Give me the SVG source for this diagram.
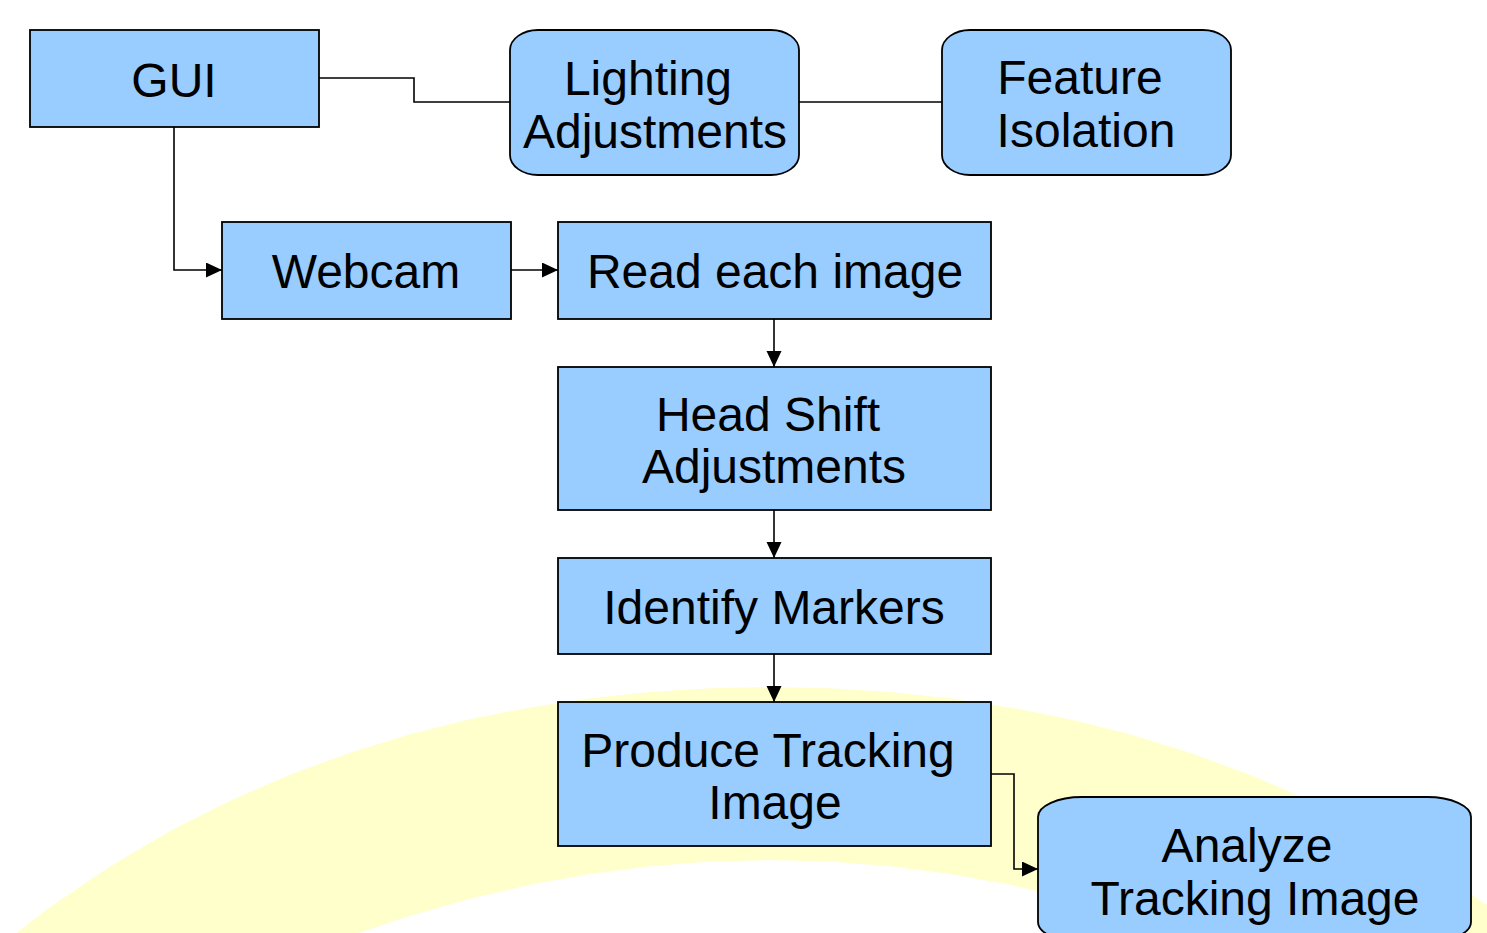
<svg xmlns="http://www.w3.org/2000/svg" width="1487" height="933" viewBox="0 0 1487 933">
<style>
.box{fill:#99ccff;stroke:#000;stroke-width:1.8}
.lbl{font-family:"Liberation Sans",Arial,sans-serif;font-size:48px;fill:#000;text-anchor:middle}
.con{fill:none;stroke:#000;stroke-width:1.6}
</style>
<defs>
<marker id="arr" markerUnits="userSpaceOnUse" markerWidth="17" markerHeight="16" refX="16" refY="7.5" orient="auto">
<path d="M0,0 L16,7.5 L0,15 Z" fill="#000"/>
</marker>
</defs>
<rect x="0" y="0" width="1487" height="933" fill="#fff"/>
<g id="background-arc">
<polygon fill="#ffffcc" points="0,946 50,907 110,866.5 170,831 230,800.7 290,774.7 350,752.7 410,734.3 470,719.3 530,707.4 590,698.3 650,692 710,688.2 770,687 830,688.2 890,692 950,698.3 1010,707.4 1070,719.3 1130,734.3 1190,752.7 1250,774.7 1310,800.7 1370,831 1430,866.5 1490,907 1490,1000 1250,1000 1250,959.1 1190,935.9 1130,915.7 1070,898.7 1010,884.8 950,873.9 890,866.2 830,861.5 770,860 710,861.5 650,866.2 590,873.9 530,884.8 470,898.7 410,915.7 350,935.9 290,959.1 290,1000 0,1000"/>
</g>
<g id="connectors">
<polyline class="con" points="319,78 414,78 414,102 510,102"/>
<line class="con" x1="799" y1="102" x2="942" y2="102"/>
<polyline class="con" points="174,127 174,270 222,270" marker-end="url(#arr)"/>
<line class="con" x1="511" y1="270" x2="558" y2="270" marker-end="url(#arr)"/>
<line class="con" x1="774" y1="319" x2="774" y2="367" marker-end="url(#arr)"/>
<line class="con" x1="774" y1="510" x2="774" y2="558" marker-end="url(#arr)"/>
<line class="con" x1="774" y1="654" x2="774" y2="702" marker-end="url(#arr)"/>
<polyline class="con" points="991,774 1014,774 1014,869 1038,869" marker-end="url(#arr)"/>
</g>
<g id="gui">
<rect class="box" x="30" y="30" width="289" height="97"/>
<text class="lbl" x="174" y="97">GUI</text>
</g>
<g id="lighting">
<rect class="box" x="510" y="30" width="289" height="145" rx="28" ry="20"/>
<text class="lbl" x="648" y="95">Lighting</text>
<text class="lbl" x="655" y="148">Adjustments</text>
</g>
<g id="feature">
<rect class="box" x="942" y="30" width="289" height="145" rx="28" ry="20"/>
<text class="lbl" x="1080" y="94">Feature</text>
<text class="lbl" x="1086" y="147">Isolation</text>
</g>
<g id="webcam">
<rect class="box" x="222" y="222" width="289" height="97"/>
<text class="lbl" x="366" y="288">Webcam</text>
</g>
<g id="read">
<rect class="box" x="558" y="222" width="433" height="97"/>
<text class="lbl" x="775" y="288">Read each image</text>
</g>
<g id="headshift">
<rect class="box" x="558" y="367" width="433" height="143"/>
<text class="lbl" x="768" y="431">Head Shift</text>
<text class="lbl" x="774" y="483">Adjustments</text>
</g>
<g id="identify">
<rect class="box" x="558" y="558" width="433" height="96"/>
<text class="lbl" x="774" y="624">Identify Markers</text>
</g>
<g id="produce">
<rect class="box" x="558" y="702" width="433" height="144"/>
<text class="lbl" x="768" y="767">Produce Tracking</text>
<text class="lbl" x="775" y="819">Image</text>
</g>
<g id="analyze">
<rect class="box" x="1038" y="797" width="433" height="145" rx="44" ry="20"/>
<text class="lbl" x="1247" y="862">Analyze</text>
<text class="lbl" x="1255" y="915">Tracking Image</text>
</g>
</svg>
